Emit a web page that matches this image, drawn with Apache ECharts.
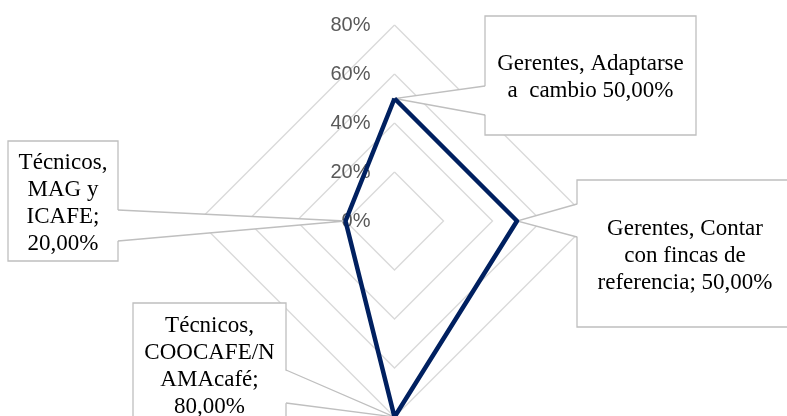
<!DOCTYPE html>
<html><head><meta charset="utf-8">
<script src="https://cdn.jsdelivr.net/npm/echarts@6/dist/echarts.min.js"></script>
<style>html,body{margin:0;padding:0;background:#fff}#c{width:787px;height:416px}</style>
</head><body><div id="c"></div>
<script>
// ---- data ----
const categories = ['Gerentes, Adaptarse a  cambio', 'Técnicos, MAG y ICAFE', 'Técnicos, COOCAFE/NAMAcafé', 'Gerentes, Contar con fincas de referencia'];
const values = [50, 20, 80, 50];
const axisMin = 0, axisMax = 80, axisStep = 20;
const tickLabels = ['0%', '20%', '40%', '60%', '80%'];
const calloutTexts = [
  'Gerentes, Adaptarse\na  cambio 50,00%',
  'Técnicos,\nMAG y\nICAFE;\n20,00%',
  'Técnicos,\nCOOCAFE/N\nAMAcafé;\n80,00%',
  'Gerentes, Contar\ncon fincas de\nreferencia; 50,00%'
];

// ---- layout of callout boxes (pixels) ----
const boxes = [
  {x: 485, y: 16,  w: 211, h: 119, side: 'left',  b0: 86,  b1: 115},
  {x: 8,   y: 141, w: 110, h: 120, side: 'right', b0: 210, b1: 241},
  {x: 133, y: 303, w: 153, h: 122, side: 'right', b0: 370, b1: 403},
  {x: 577, y: 180, w: 216, h: 147, side: 'left',  b0: 204, b1: 237}
];
const CENTER = [394.5, 221], RADIUS = 196;
const GRAY = '#bfbfbf';

const chart = echarts.init(document.getElementById('c'), null, {renderer: 'canvas'});
chart.setOption({
  animation: false,
  backgroundColor: '#fff',
  radar: {
    center: CENTER, radius: RADIUS, startAngle: 90, shape: 'polygon', splitNumber: 4,
    indicator: categories.map((c, i) => {
      const o = {name: '', min: axisMin, max: axisMax};
      if (i === 0) o.axisLabel = {show: true};
      return o;
    }),
    axisName: {show: false},
    splitLine: {lineStyle: {color: '#d9d9d9', width: 1.3}},
    splitArea: {show: false},
    axisLine: {show: false},
    axisTick: {show: false},
    axisLabel: {
      show: false, color: '#595959', fontSize: 20, fontFamily: 'Liberation Sans', margin: 24,
      formatter: v => tickLabels[Math.round((v - axisMin) / axisStep)]
    }
  },
  polar: {center: CENTER, radius: RADIUS},
  angleAxis: {type: 'category', data: categories, startAngle: 90, clockwise: false, boundaryGap: false, show: false},
  radiusAxis: {min: axisMin, max: axisMax, show: false},
  series: [
    {
      type: 'radar', z: 3, symbol: 'none',
      lineStyle: {color: '#002060', width: 4.5},
      itemStyle: {color: '#002060'},
      data: [{value: values}]
    },
    {
      type: 'custom', coordinateSystem: 'polar', z: 2,
      data: values.map((v, i) => [v, i]),
      renderItem: function (params, api) {
        const i = params.dataIndex;
        const p = api.coord([api.value(0), api.value(1)]);
        const b = boxes[i];
        const ex = b.side === 'left' ? b.x : b.x + b.w;
        const inset = b.side === 'left' ? 2 : -2;
        return {
          type: 'group',
          children: [
            {type: 'rect', shape: {x: b.x, y: b.y, width: b.w, height: b.h},
             style: {fill: '#fff', stroke: GRAY, lineWidth: 1.3}},
            {type: 'polygon', shape: {points: [[ex + inset, b.b0], [p[0], p[1]], [ex + inset, b.b1]]},
             style: {fill: '#fff', stroke: null}},
            {type: 'polyline', shape: {points: [[ex, b.b0], [p[0], p[1]], [ex, b.b1]]},
             style: {fill: null, stroke: GRAY, lineWidth: 1.3}},
            {type: 'text', x: b.x + b.w / 2, y: b.y + b.h / 2 + 2,
             style: {text: calloutTexts[i], align: 'center', verticalAlign: 'middle',
                     font: '23px "Liberation Serif"', lineHeight: 27, fill: '#000'}}
          ]
        };
      }
    }
  ]
});
</script>
</body></html>
